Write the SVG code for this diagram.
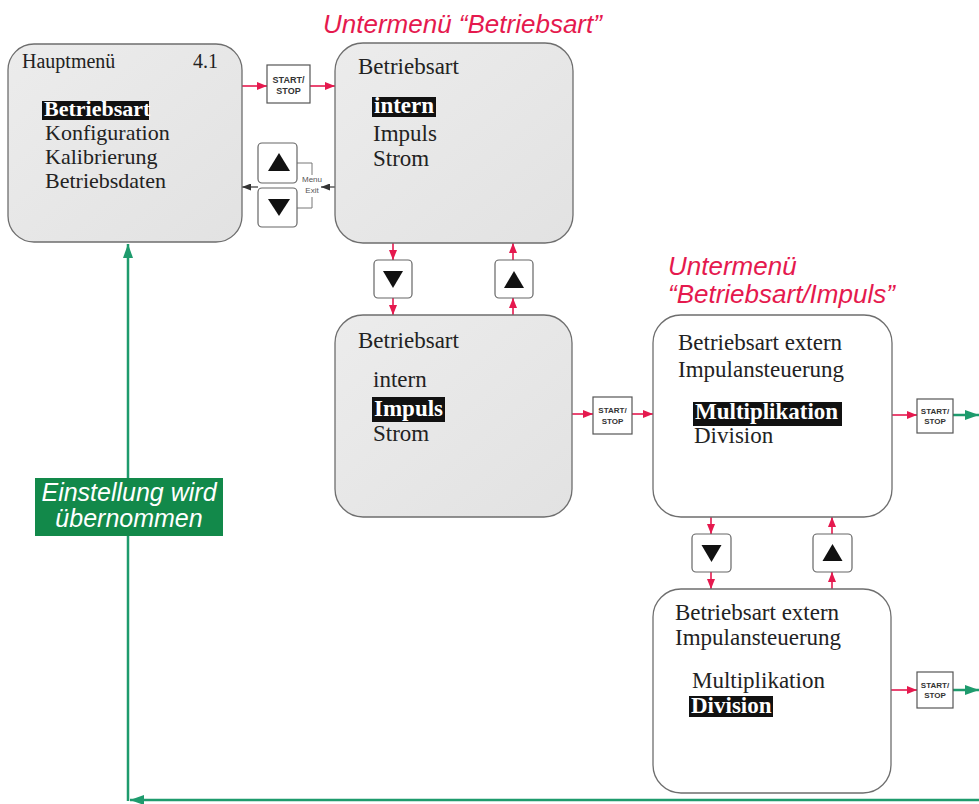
<svg xmlns="http://www.w3.org/2000/svg" width="979" height="804" viewBox="0 0 979 804">
<defs>
<linearGradient id="gfill" x1="0" y1="0" x2="1" y2="1">
<stop offset="0" stop-color="#ececec"/>
<stop offset="1" stop-color="#e2e2e2"/>
</linearGradient>
<marker id="ar" markerUnits="userSpaceOnUse" markerWidth="10" markerHeight="8" refX="10" refY="4" orient="auto"><path d="M0,0 L10,4 L0,8 z" fill="#e5194e"/></marker>
<marker id="ab" markerUnits="userSpaceOnUse" markerWidth="9" markerHeight="7" refX="9" refY="3.5" orient="auto"><path d="M0,0 L9,3.5 L0,7 z" fill="#333"/></marker>
<marker id="ag" markerUnits="userSpaceOnUse" markerWidth="14" markerHeight="10" refX="14" refY="5" orient="auto"><path d="M0,0 L14,5 L0,10 z" fill="#1e9b6d"/></marker>
<style>
.box{stroke:#6e6e6e;stroke-width:1.3}
.gray{fill:url(#gfill)}
.white{fill:#fff}
.t{font-family:"Liberation Serif","Times New Roman",serif;font-size:23px;fill:#222}
.t1{font-family:"Liberation Serif","Times New Roman",serif;font-size:22px;fill:#222}
.hd{font-family:"Liberation Serif","Times New Roman",serif;font-size:20px;fill:#222}
.hl{fill:#111}
.ht{font-family:"Liberation Serif","Times New Roman",serif;font-weight:bold;font-size:23px;fill:#fff}
.key{fill:#fff;stroke:#666;stroke-width:1.2}
.ssb{fill:#fff;stroke:#555;stroke-width:1.2}
.tri{fill:#111}
.ss{font-family:"Liberation Sans",Arial,sans-serif;font-weight:bold;font-size:8px;fill:#333;text-anchor:middle}
.me{font-family:"Liberation Sans",Arial,sans-serif;font-size:8px;fill:#555;text-anchor:middle}
.red{stroke:#e5194e;stroke-width:1.6;fill:none;marker-end:url(#ar)}
.blk{stroke:#333;stroke-width:1.2;fill:none;marker-end:url(#ab)}
.grn{stroke:#1e9b6d;stroke-width:2.5;fill:none;marker-end:url(#ag)}
.brk{stroke:#777;stroke-width:1;fill:none}
.title{font-family:"Liberation Sans",Arial,sans-serif;font-style:italic;font-size:26px;fill:#e5194e}
.lbl{font-family:"Liberation Sans",Arial,sans-serif;font-style:italic;font-size:25px;fill:#fff;text-anchor:middle}
</style>
</defs>
<rect width="979" height="804" fill="#fff"/>

<g id="connectors">
<path class="grn" d="M979,800 H130"/>
<path class="grn" d="M128,801 V244"/>
<path class="red" d="M242,86 H267"/>
<path class="red" d="M310,86 H335"/>
<path class="blk" d="M335,187 H321"/>
<path class="blk" d="M258,187 H242"/>
<path class="brk" d="M297,163 H312 V175 M312,197 V208 H297"/>
<path class="red" d="M393,243 V260"/>
<path class="red" d="M393,298 V315"/>
<path class="red" d="M513,315 V298"/>
<path class="red" d="M513,260 V243"/>
<path class="red" d="M572,414 H593"/>
<path class="red" d="M632,414 H653"/>
<path class="red" d="M891,415 H917"/>
<path class="grn" d="M953,415 H979"/>
<path class="red" d="M711,517 V534"/>
<path class="red" d="M711,572 V589"/>
<path class="red" d="M832,589 V572"/>
<path class="red" d="M832,534 V517"/>
<path class="red" d="M891,690 H917"/>
<path class="grn" d="M953,690 H979"/>
</g>

<g id="title-betriebsart">
<text class="title" x="323" y="33">Untermenü “Betriebsart”</text>
</g>
<g id="title-impuls">
<text class="title" x="668" y="275">Untermenü</text>
<text class="title" x="668" y="303">“Betriebsart/Impuls”</text>
</g>

<g id="box-hauptmenu">
<rect class="box gray" x="8" y="44" width="234" height="198" rx="26"/>
<text class="hd" x="22" y="68">Hauptmenü</text>
<text class="hd" x="193" y="68">4.1</text>
<rect class="hl" x="42" y="101" width="107" height="19"/>
<text class="ht" x="44" y="116" style="font-size:22px">Betriebsart</text>
<text class="t1" x="45" y="140">Konfiguration</text>
<text class="t1" x="45" y="164">Kalibrierung</text>
<text class="t1" x="45" y="188">Betriebsdaten</text>
</g>

<g id="btn-start-stop-1">
<rect class="ssb" x="267" y="65" width="43" height="38"/>
<text class="ss" x="288.5" y="83" style="font-size:9px">START/</text>
<text class="ss" x="288.5" y="94" style="font-size:9px">STOP</text>
</g>

<g id="key-up-menu">
<rect class="key" x="258" y="143" width="39" height="40" rx="4"/>
<polygon class="tri" points="279,153 290,171 268,171"/>
</g>
<g id="key-down-menu">
<rect class="key" x="258" y="188" width="39" height="39" rx="4"/>
<polygon class="tri" points="268,199 290,199 279,216"/>
</g>
<g id="menu-exit">
<text class="me" x="312" y="182">Menu</text>
<text class="me" x="312" y="193">Exit</text>
</g>

<g id="box-betriebsart-intern">
<rect class="box gray" x="335" y="43" width="238" height="200" rx="28"/>
<text class="t" x="358" y="74">Betriebsart</text>
<rect class="hl" x="372" y="97" width="64" height="20"/>
<text class="ht" x="374" y="113">intern</text>
<text class="t" x="373" y="141">Impuls</text>
<text class="t" x="373" y="166">Strom</text>
</g>

<g id="key-down-1">
<rect class="key" x="374" y="260" width="38" height="38" rx="4"/>
<polygon class="tri" points="383,271 403,271 393,288"/>
</g>
<g id="key-up-1">
<rect class="key" x="495" y="260" width="38" height="38" rx="4"/>
<polygon class="tri" points="514,271 524,288 504,288"/>
</g>

<g id="box-betriebsart-impuls">
<rect class="box gray" x="335" y="315" width="237" height="202" rx="28"/>
<text class="t" x="358" y="348">Betriebsart</text>
<text class="t" x="373" y="387">intern</text>
<rect class="hl" x="372" y="397" width="73" height="25"/>
<text class="ht" x="374" y="416">Impuls</text>
<text class="t" x="373" y="441">Strom</text>
</g>

<g id="btn-start-stop-2">
<rect class="ssb" x="593" y="397" width="39" height="37"/>
<text class="ss" x="612.5" y="413">START/</text>
<text class="ss" x="612.5" y="424">STOP</text>
</g>

<g id="box-multiplikation">
<rect class="box white" x="653" y="315" width="239" height="202" rx="28"/>
<text class="t" x="678" y="350">Betriebsart extern</text>
<text class="t" x="678" y="377">Impulansteuerung</text>
<rect class="hl" x="693" y="402" width="149" height="24"/>
<text class="ht" x="695" y="419">Multiplikation</text>
<text class="t" x="694" y="443">Division</text>
</g>

<g id="btn-start-stop-3">
<rect class="ssb" x="917" y="399" width="36" height="34"/>
<text class="ss" x="935" y="414">START/</text>
<text class="ss" x="935" y="424">STOP</text>
</g>

<g id="key-down-2">
<rect class="key" x="692" y="534" width="39" height="38" rx="4"/>
<polygon class="tri" points="701.5,545 721.5,545 711.5,562"/>
</g>
<g id="key-up-2">
<rect class="key" x="813" y="534" width="39" height="38" rx="4"/>
<polygon class="tri" points="832.5,544 842.5,561 822.5,561"/>
</g>

<g id="box-division">
<rect class="box white" x="653" y="589" width="238" height="204" rx="28"/>
<text class="t" x="675" y="620">Betriebsart extern</text>
<text class="t" x="675" y="645">Impulansteuerung</text>
<text class="t" x="692" y="688">Multiplikation</text>
<rect class="hl" x="689" y="696" width="84" height="21"/>
<text class="ht" x="691" y="713">Division</text>
</g>

<g id="btn-start-stop-4">
<rect class="ssb" x="917" y="672" width="36" height="36"/>
<text class="ss" x="935" y="688">START/</text>
<text class="ss" x="935" y="698">STOP</text>
</g>

<g id="label-uebernommen">
<rect x="35" y="478" width="188" height="58" fill="#12894a"/>
<text class="lbl" x="129" y="501">Einstellung wird</text>
<text class="lbl" x="129" y="527">übernommen</text>
</g>
</svg>
